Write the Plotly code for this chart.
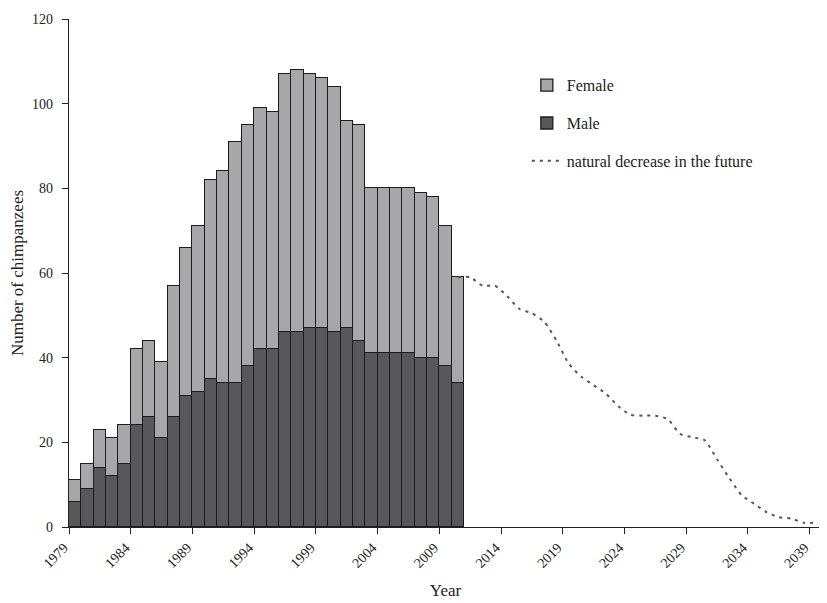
import plotly.graph_objects as go

years = list(range(1979, 2011))
total = [11, 15, 23, 21, 24, 42, 44, 39, 57, 66, 71, 82, 84, 91, 95, 99, 98,
         107, 108, 107, 106, 104, 96, 95, 80, 80, 80, 80, 79, 78, 71, 59]
male = [6, 9, 14, 12, 15, 24, 26, 21, 26, 31, 32, 35, 34, 34, 38, 42, 42,
        46, 46, 47, 47, 46, 47, 44, 41, 41, 41, 41, 40, 40, 38, 34]
female = [t - m for t, m in zip(total, male)]

future_years = list(range(2010, 2040))
future_values = [59, 59, 57, 57, 54.5, 51.5, 50.5, 48.5, 44, 38.5, 35.5, 33.5, 31.5,
                 28.5, 26.5, 26.3, 26.3, 25.5, 22, 21.2, 20.5, 16, 11.5, 7.5, 5.5,
                 3.5, 2.3, 2, 1, 1]

tick_years = list(range(1979, 2040, 5))

FONT = "Liberation Serif, Times New Roman, serif"
TXT = "#222222"

fig = go.Figure()
xb = [y + 0.5 for y in years]
fig.add_trace(go.Bar(
    x=xb, y=male, name="Male", width=1,
    marker=dict(color="#58585a", line=dict(color="#1c1c1c", width=1.3)),
    legendgroup="m", legendrank=2,
))
fig.add_trace(go.Bar(
    x=xb, y=female, name="Female", width=1,
    marker=dict(color="#a7a7a9", line=dict(color="#1c1c1c", width=1.3)),
    legendgroup="f", legendrank=1,
))
fig.add_trace(go.Scatter(
    x=[y + 0.5 for y in future_years], y=future_values,
    mode="lines", name="natural decrease in the future",
    line=dict(color="#555555", width=2, dash="3px,5px", shape="spline", smoothing=0.6),
    legendgroup="l", legendrank=3,
))

fig.update_layout(
    width=819, height=595,
    barmode="stack", bargap=0,
    paper_bgcolor="white", plot_bgcolor="white",
    margin=dict(l=61, r=5, t=11, b=76),
    font=dict(family=FONT, size=15, color=TXT),
    legend=dict(x=0.608, y=0.903, xanchor="left", yanchor="top",
                bgcolor="rgba(0,0,0,0)", tracegroupgap=14,
                font=dict(family=FONT, size=16, color=TXT)),
    xaxis=dict(
        range=[1979, 2040], tickmode="array", tickvals=tick_years,
        ticktext=[str(t) for t in tick_years], tickangle=-45, automargin=False,
        ticklabelshift=-5,
        showgrid=False, zeroline=False, showline=True, linecolor="#222",
        linewidth=1.3, ticks="outside", ticklen=6, tickcolor="#222",
        tickfont=dict(family=FONT, size=14, color=TXT),
        title=dict(text="Year", font=dict(family=FONT, size=17, color=TXT), standoff=14),
    ),
    yaxis=dict(
        range=[0, 120], tickmode="array", tickvals=[0, 20, 40, 60, 80, 100, 120],
        automargin=False, ticklabelstandoff=6,
        showgrid=False, zeroline=False, showline=True, linecolor="#222",
        linewidth=1.3, ticks="outside", ticklen=6, tickcolor="#222",
        tickfont=dict(family=FONT, size=14, color=TXT),
        title=dict(text="Number of chimpanzees", font=dict(family=FONT, size=17, color=TXT), standoff=4),
    ),
)

fig.write_html("out.html")
